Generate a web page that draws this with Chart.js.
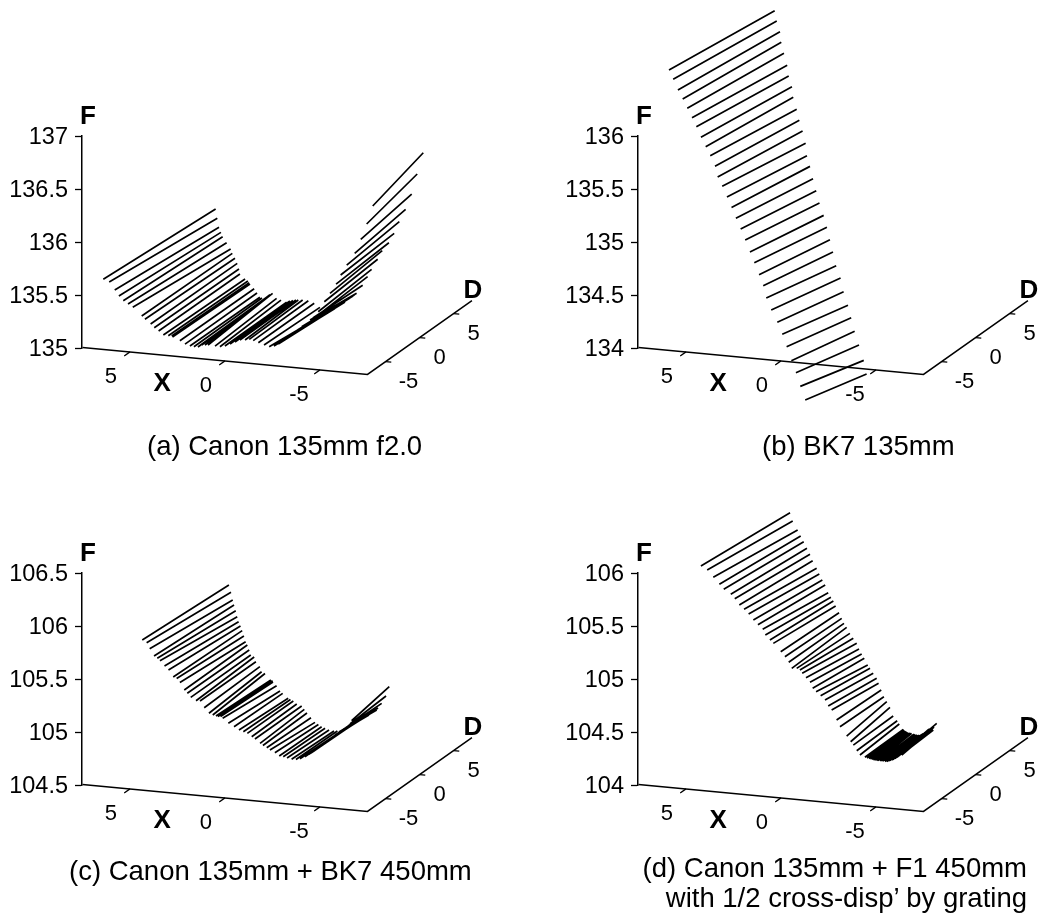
<!DOCTYPE html>
<html>
<head>
<meta charset="utf-8">
<title>Focal surfaces</title>
<script src="https://cdn.jsdelivr.net/npm/chart.js@4/dist/chart.umd.min.js"></script>
<style>
    body { margin: 0; background: #fff; }
    #page { position: relative; width: 1042px; height: 914px; overflow: hidden; }
    canvas { position: absolute; }
    .caption { position: absolute; font: 27.5px "Liberation Sans", Arial, sans-serif; color: #000; white-space: nowrap; line-height: 30px; }
</style>
</head>
<body>
<div id="page">
    <canvas id="panelA" width="486" height="437" style="left:0;top:0"></canvas>
    <canvas id="panelB" width="486" height="437" style="left:556px;top:0"></canvas>
    <canvas id="panelC" width="486" height="437" style="left:0;top:437px"></canvas>
    <canvas id="panelD" width="486" height="437" style="left:556px;top:437px"></canvas>
    <div class="caption" style="left:147px;top:431px">(a) Canon 135mm f2.0</div>
    <div class="caption" style="left:762px;top:431px">(b) BK7 135mm</div>
    <div class="caption" style="left:69px;top:856px">(c) Canon 135mm + BK7 450mm</div>
    <div class="caption" style="right:15px;top:853px;text-align:right">(d) Canon 135mm + F1 450mm<br>with 1/2 cross-disp’ by grating</div>
</div>
<script>
// Each trace is one order: it runs from D = -7 to D = 7, X and F are read at both ends
const traceD0 = -7;
const traceD1 = 7;

// (a) Canon 135mm f2.0
const canonX0 = [6.64, 6.33, 6.04, 5.82, 5.59, 5.34, 5.09, 4.62, 4.45, 4.15, 3.96, 3.73, 3.48, 3.22, 3.04, 3.0, 2.61, 2.34, 2.08, 1.87, 1.66, 1.46, 1.29, 1.13, 0.76, 0.5, 0.24, -0.03, -0.29, -0.55, -0.82, -1.04, -1.25, -1.52, -1.82, -2.09, -2.34, -2.57, -2.92, -3.36, -3.58, -3.8, -4.24, -4.39, -4.59, -4.67, -4.99, -5.29, -5.61, -5.85, -6.17, -6.59, -6.91, -7.22, -7.54];
const canonF0 = [135.627, 135.607, 135.536, 135.483, 135.443, 135.416, 135.389, 135.315, 135.287, 135.248, 135.216, 135.189, 135.155, 135.153, 135.153, 135.144, 135.116, 135.089, 135.075, 135.072, 135.073, 135.095, 135.098, 135.101, 135.097, 135.095, 135.106, 135.13, 135.153, 135.176, 135.181, 135.191, 135.182, 135.167, 135.151, 135.139, 135.15, 135.173, 135.223, 135.287, 135.322, 135.357, 135.428, 135.449, 135.471, 135.513, 135.613, 135.697, 135.79, 135.88, 135.979, 136.097, 136.234, 136.384, 136.559];
const canonX1 = [5.74, 5.65, 5.56, 5.46, 5.37, 5.16, 4.95, 4.86, 4.72, 4.6, 4.51, 4.46, 4.19, 4.04, 3.97, 3.93, 3.71, 3.56, 3.41, 3.3, 3.14, 2.98, 2.88, 2.74, 2.53, 2.3, 2.0, 1.83, 1.67, 1.51, 1.39, 1.16, 0.86, 0.55, 0.25, -0.28, -0.54, -0.81, -1.07, -1.33, -1.49, -1.59, -1.68, -2.0, -2.26, -2.47, -2.79, -3.03, -3.38, -3.66, -3.93, -4.26, -4.58, -4.87, -5.19];
const canonF1 = [135.672, 135.585, 135.502, 135.456, 135.416, 135.363, 135.308, 135.268, 135.224, 135.178, 135.126, 135.08, 135.037, 135.021, 135.006, 134.995, 134.954, 134.916, 134.878, 134.873, 134.873, 134.897, 134.913, 134.927, 134.883, 134.871, 134.855, 134.87, 134.877, 134.885, 134.887, 134.891, 134.889, 134.87, 134.837, 134.811, 134.839, 134.877, 134.91, 134.952, 134.973, 134.989, 135.002, 135.083, 135.169, 135.242, 135.342, 135.427, 135.508, 135.602, 135.716, 135.838, 135.988, 136.182, 136.388];
const canonTicks = [135, 135.5, 136, 136.5, 137];

// (b) BK7 135mm
const bk7X0 = [6.13, 5.91, 5.66, 5.41, 5.17, 4.92, 4.69, 4.45, 4.2, 3.96, 3.71, 3.57, 3.33, 3.08, 2.84, 2.61, 2.36, 2.12, 1.87, 1.64, 1.39, 1.17, 1.01, 0.75, 0.43, 0.17, -0.06, -0.31, -0.55, -0.78, -1.04];
const bk7F0 = [136.61, 136.526, 136.429, 136.349, 136.265, 136.181, 136.1, 136.004, 135.919, 135.838, 135.743, 135.644, 135.56, 135.464, 135.369, 135.271, 135.174, 135.074, 134.965, 134.868, 134.759, 134.659, 134.546, 134.437, 134.327, 134.218, 134.105, 133.977, 133.868, 133.743, 133.619];
const bk7X1 = [5.58, 5.47, 5.3, 5.23, 5.09, 4.92, 4.84, 4.67, 4.6, 4.42, 4.28, 4.11, 3.95, 3.88, 3.72, 3.56, 3.39, 3.22, 3.0, 2.83, 2.67, 2.51, 2.34, 2.11, 1.95, 1.72, 1.55, 1.37, 1.14, 0.89, 0.74];
const bk7F1 = [136.545, 136.45, 136.352, 136.253, 136.151, 136.041, 135.941, 135.843, 135.745, 135.634, 135.533, 135.435, 135.322, 135.206, 135.108, 134.994, 134.884, 134.771, 134.658, 134.548, 134.434, 134.321, 134.194, 134.082, 133.956, 133.831, 133.717, 133.592, 133.466, 133.326, 133.2];
const bk7Ticks = [134, 134.5, 135, 135.5, 136];

// (c) Canon 135mm + BK7 450mm
const comboX0 = [4.59, 4.36, 4.2, 3.97, 3.8, 3.66, 3.42, 3.21, 2.96, 2.78, 2.61, 2.38, 2.22, 2.04, 1.76, 1.55, 1.33, 1.08, 0.88, 0.71, 0.61, 0.47, 0.36, 0.06, -0.24, -0.5, -0.73, -0.94, -1.17, -1.34, -1.61, -1.76, -1.96, -2.13, -2.39, -2.62, -2.83, -3.03, -3.27, -3.5, -3.71, -3.97, -4.18, -4.41, -4.76, -5.12, -5.55, -5.99, -6.24, -6.34, -6.43, -4.29, -4.58, -4.92, -5.34, -5.76, -6.13];
const comboF0 = [105.882, 105.86, 105.806, 105.741, 105.722, 105.702, 105.656, 105.622, 105.56, 105.549, 105.514, 105.447, 105.419, 105.384, 105.357, 105.358, 105.298, 105.25, 105.237, 105.23, 105.227, 105.23, 105.215, 105.173, 105.146, 105.119, 105.107, 105.095, 105.067, 105.048, 105.012, 104.994, 104.977, 104.958, 104.937, 104.91, 104.907, 104.898, 104.89, 104.892, 104.903, 104.926, 104.952, 104.981, 105.034, 105.087, 105.157, 105.219, 105.254, 105.275, 105.307, 104.966, 105.009, 105.062, 105.121, 105.189, 105.238];
const comboX1 = [5.04, 4.93, 4.84, 4.77, 4.68, 4.6, 4.53, 4.43, 4.34, 4.25, 4.16, 4.07, 3.97, 3.89, 3.71, 3.62, 3.41, 3.32, 3.14, 2.83, 2.74, 2.72, 2.53, 2.35, 2.21, 1.92, 1.8, 1.65, 1.47, 1.21, 1.07, 0.93, 0.72, 0.51, 0.33, 0.16, -0.02, -0.23, -0.49, -0.67, -0.89, -1.12, -1.33, -1.54, -1.75, -2.02, -2.33, -2.74, -3.0, -3.23, -3.4, -1.44, -1.65, -1.88, -2.17, -2.54, -2.81];
const comboF1 = [105.759, 105.692, 105.621, 105.575, 105.522, 105.467, 105.421, 105.382, 105.34, 105.291, 105.239, 105.209, 105.164, 105.118, 105.102, 105.059, 105.016, 104.97, 104.956, 104.9, 104.895, 104.883, 104.851, 104.804, 104.785, 104.743, 104.734, 104.722, 104.697, 104.682, 104.653, 104.621, 104.58, 104.54, 104.523, 104.505, 104.493, 104.48, 104.475, 104.478, 104.482, 104.514, 104.537, 104.569, 104.591, 104.624, 104.658, 104.712, 104.779, 104.852, 104.943, 104.548, 104.58, 104.607, 104.641, 104.689, 104.732];
const comboTicks = [104.5, 105, 105.5, 106, 106.5];

// (d) Canon 135mm + F1 450mm with 1/2 cross-disp' by grating
const gratingX0 = [4.45, 4.12, 3.8, 3.48, 3.25, 2.88, 2.67, 2.43, 2.18, 1.94, 1.69, 1.45, 1.2, 1.06, 0.82, 0.64, 0.25, 0.03, -0.17, -0.33, -0.59, -0.76, -0.88, -1.08, -1.29, -1.43, -1.61, -1.85, -2.08, -2.25, -2.43, -2.69, -2.87, -3.22, -3.43, -3.57, -3.75, -3.92, -4.18, -4.39, -4.55, -4.71, -4.87, -4.97, -5.13, -5.33, -5.5, -5.67, -5.87, -6.12, -6.34, -6.55, -6.76, -6.99, -4.29, -4.47, -4.63, -4.79, -5.05, -5.24, -5.42, -5.61, -5.76, -5.97, -6.24, -6.45];
const gratingF0 = [106.082, 106.05, 105.986, 105.926, 105.883, 105.842, 105.804, 105.748, 105.712, 105.672, 105.619, 105.579, 105.54, 105.489, 105.446, 105.417, 105.345, 105.301, 105.252, 105.198, 105.202, 105.189, 105.16, 105.122, 105.082, 105.028, 104.999, 104.965, 104.929, 104.875, 104.84, 104.75, 104.69, 104.608, 104.558, 104.529, 104.479, 104.441, 104.424, 104.416, 104.411, 104.407, 104.405, 104.405, 104.405, 104.402, 104.416, 104.43, 104.451, 104.478, 104.52, 104.564, 104.603, 104.641, 104.419, 104.413, 104.406, 104.404, 104.404, 104.402, 104.41, 104.423, 104.439, 104.467, 104.499, 104.541];
const gratingX1 = [4.77, 4.63, 4.37, 4.21, 4.05, 3.88, 3.72, 3.58, 3.37, 3.23, 3.07, 2.92, 2.76, 2.62, 2.49, 2.37, 2.19, 2.05, 1.93, 1.79, 1.62, 1.44, 1.26, 1.14, 1.0, 0.86, 0.68, 0.56, 0.39, 0.21, 0.11, -0.03, -0.17, -0.32, -0.49, -0.66, -0.87, -0.98, -1.19, -1.28, -1.38, -1.49, -1.63, -1.75, -1.93, -2.07, -2.23, -2.42, -2.54, -2.65, -2.77, -2.81, -2.95, -2.77, -1.23, -1.33, -1.44, -1.57, -1.83, -2.02, -2.15, -2.33, -2.49, -2.59, -2.7, -2.75];
const gratingF1 = [105.945, 105.869, 105.789, 105.735, 105.684, 105.625, 105.571, 105.513, 105.445, 105.393, 105.339, 105.295, 105.225, 105.184, 105.151, 105.106, 105.046, 104.995, 104.95, 104.915, 104.861, 104.817, 104.773, 104.721, 104.676, 104.638, 104.578, 104.549, 104.505, 104.461, 104.415, 104.354, 104.293, 104.249, 104.199, 104.12, 104.079, 104.05, 104.003, 103.989, 103.981, 103.973, 103.973, 103.968, 103.962, 103.96, 103.981, 104.002, 104.029, 104.021, 104.023, 104.052, 104.09, 104.023, 103.997, 103.985, 103.977, 103.975, 103.965, 103.963, 103.97, 103.992, 104.014, 104.03, 104.032, 104.042];
const gratingTicks = [104, 104.5, 105, 105.5, 106];

// Floor of the box and its ticks, same for all four panels
const xRange = [7.5, -7.5];
const dRange = [-7.66, 7.7];
const xTicks = [5, 0, -5];
const dTicks = [-5, 0, 5];

// Oblique view: one X unit, one D unit and one F unit on the page
const pxPerX = 19;
const pxPerF = 106;
const dAcrossX = 6.8 / pxPerX;
const xSlope = 1.8 / pxPerF;
const dSlope = 4.8 / pxPerF;
const viewMinX = -7.368;
const plotWidth = 404;

function project(x, d, f) {
    const along = d + 8.1;
    return {
        x: -x + dAcrossX * along,
        y: f - (15 / pxPerF - xSlope * x - dSlope * along)
    };
}

function segment(a, b) {
    return [a, b, { x: NaN, y: NaN }];
}

// Axis words and numbers next to the floor of the box
const floorText = {
    id: 'floorText',
    afterDraw(chart, args, opts) {
        const ctx = chart.ctx;
        const xs = chart.scales.x;
        const ys = chart.scales.y;
        const place = (pt, text, dx, dy, font) => {
            ctx.font = font;
            ctx.fillText(text, xs.getPixelForValue(pt.x) + dx, ys.getPixelForValue(pt.y) + dy);
        };
        const thin = '22px "Liberation Sans", Arial, sans-serif';
        const bold = 'bold 26px "Liberation Sans", Arial, sans-serif';
        ctx.save();
        ctx.fillStyle = '#000';
        ctx.textAlign = 'center';
        ctx.textBaseline = 'middle';
        xTicks.forEach(v => {
            place(project(v, dRange[0], opts.base), String(v), v < 0 ? -21 : -19, 25, thin);
        });
        dTicks.forEach(v => {
            place(project(xRange[1], v, opts.base), String(v), v < 0 ? 23 : 20, 20, thin);
        });
        place(project(3.3, dRange[0], opts.base), 'X', 0, 29, bold);
        place(project(xRange[1], dRange[1], opts.base), 'D', 1, -10, bold);
        place({ x: viewMinX, y: opts.top }, 'F', 6, -19, bold);
        ctx.restore();
    }
};

function makePanel(canvasId, x0, f0, x1, f1, fTicks) {
    const base = fTicks[0];
    const traces = [];
    x0.forEach((v, i) => {
        traces.push(...segment(project(v, traceD0, f0[i]), project(x1[i], traceD1, f1[i])));
    });

    const frame = [
        project(xRange[0], dRange[0], base),
        project(xRange[1], dRange[0], base),
        project(xRange[1], dRange[1], base)
    ];
    const tickMarks = [];
    xTicks.forEach(v => {
        tickMarks.push(...segment(project(v, dRange[0], base), project(v, dRange[0] - 0.85, base)));
    });
    dTicks.forEach(v => {
        tickMarks.push(...segment(project(xRange[1], v, base), project(xRange[1] - 0.3, v, base)));
    });

    const lineStyle = { showLine: true, pointRadius: 0, borderColor: '#000', clip: false, spanGaps: false, fill: false };

    return new Chart(document.getElementById(canvasId), {
        type: 'scatter',
        data: {
            datasets: [
                { ...lineStyle, label: 'traces', data: traces, borderWidth: 1.7 },
                { ...lineStyle, label: 'floor', data: frame, borderWidth: 1.5 },
                { ...lineStyle, label: 'ticks', data: tickMarks, borderWidth: 1.3 }
            ]
        },
        options: {
            responsive: false,
            animation: false,
            layout: { padding: { top: 136, bottom: 89, left: 0, right: 0 } },
            plugins: {
                legend: { display: false },
                tooltip: { enabled: false },
                floorText: { base: base, top: fTicks[fTicks.length - 1] }
            },
            scales: {
                x: {
                    type: 'linear',
                    display: false,
                    min: viewMinX,
                    max: viewMinX + plotWidth / pxPerX
                },
                y: {
                    type: 'linear',
                    min: base,
                    max: fTicks[fTicks.length - 1],
                    afterFit: scale => { scale.width = 82; },
                    afterBuildTicks: scale => { scale.ticks = fTicks.map(v => ({ value: v })); },
                    grid: { drawOnChartArea: false, drawTicks: true, tickLength: 7, tickColor: '#000', tickWidth: 1.3 },
                    border: { display: true, color: '#000', width: 1.5 },
                    ticks: {
                        autoSkip: false,
                        color: '#000',
                        padding: 7,
                        labelOffset: 2,
                        font: { family: '"Liberation Sans", Arial, sans-serif', size: 23.5 },
                        callback: v => String(v)
                    }
                }
            }
        },
        plugins: [floorText]
    });
}

makePanel('panelA', canonX0, canonF0, canonX1, canonF1, canonTicks);
makePanel('panelB', bk7X0, bk7F0, bk7X1, bk7F1, bk7Ticks);
makePanel('panelC', comboX0, comboF0, comboX1, comboF1, comboTicks);
makePanel('panelD', gratingX0, gratingF0, gratingX1, gratingF1, gratingTicks);
</script>
</body>
</html>
